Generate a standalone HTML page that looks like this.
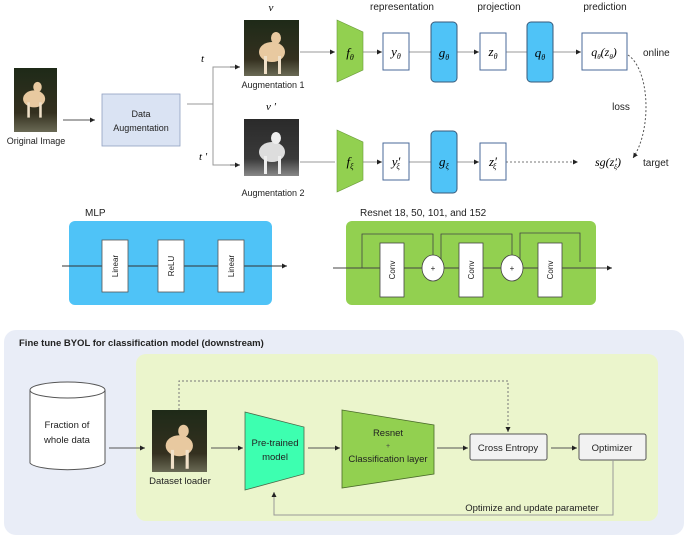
<!DOCTYPE html>
<html><head><style>
body{margin:0;background:#fff;}
svg{display:block;font-family:"Liberation Sans",sans-serif;}
.m{font-family:"Liberation Serif",serif;font-style:italic;}
</style></head><body>
<svg width="685" height="538" viewBox="0 0 685 538" xmlns="http://www.w3.org/2000/svg">
<defs>
<marker id="a" markerWidth="6" markerHeight="6" refX="5" refY="3" orient="auto"><path d="M0,0.5 L5,3 L0,5.5z" fill="#222"/></marker>
<linearGradient id="dog" x1="0" y1="0" x2="0" y2="1"><stop offset="0" stop-color="#1e2a18"/><stop offset="0.7" stop-color="#34301f"/><stop offset="1" stop-color="#6a6a55"/></linearGradient>
<linearGradient id="dogg" x1="0" y1="0" x2="0" y2="1"><stop offset="0" stop-color="#2a2a2a"/><stop offset="0.7" stop-color="#3a3a3a"/><stop offset="1" stop-color="#888"/></linearGradient>
<g id="dogc"><ellipse cx="26" cy="34" rx="13" ry="10" fill="#e8c9a0"/><ellipse cx="30" cy="20" rx="5" ry="6" fill="#e8c9a0"/><rect x="18" y="38" width="3" height="18" fill="#f0e0c8"/><rect x="32" y="38" width="3" height="18" fill="#f0e0c8"/></g>
<g id="dogw"><ellipse cx="26" cy="34" rx="13" ry="10" fill="#ddd"/><ellipse cx="30" cy="20" rx="5" ry="6" fill="#eee"/><rect x="18" y="38" width="3" height="18" fill="#eee"/><rect x="32" y="38" width="3" height="18" fill="#eee"/></g>
</defs>

<!-- Top section -->
<rect x="14" y="68" width="43" height="64" fill="url(#dog)"/>
<use href="#dogc" transform="translate(12,70) scale(0.85)"/>
<text x="36" y="144" font-size="9" text-anchor="middle" fill="#222">Original Image</text>
<line x1="63" y1="120" x2="95" y2="120" stroke="#555" stroke-width="1" marker-end="url(#a)"/>
<rect x="102" y="94" width="78" height="52" fill="#dae3f3" stroke="#8fa0c0" stroke-width="0.8"/>
<text x="141" y="117" font-size="9" text-anchor="middle" fill="#222">Data</text>
<text x="141" y="131" font-size="9" text-anchor="middle" fill="#222">Augmentation</text>
<line x1="187" y1="104" x2="213" y2="104" stroke="#999"/>
<path d="M238,67 H213 V165 H238" fill="none" stroke="#999"/>
<line x1="230" y1="67" x2="240" y2="67" stroke="#555" marker-end="url(#a)"/>
<line x1="230" y1="165" x2="240" y2="165" stroke="#555" marker-end="url(#a)"/>
<text x="201" y="62" font-size="11" class="m">t</text>
<text x="199" y="160" font-size="11" class="m">t ′</text>

<rect x="244" y="20" width="55" height="56" fill="url(#dog)"/>
<use href="#dogc" transform="translate(246,18) scale(1)"/>
<text x="271" y="11" font-size="11" class="m" text-anchor="middle">v</text>
<text x="273" y="88" font-size="9" text-anchor="middle" fill="#222">Augmentation 1</text>
<rect x="244" y="119" width="55" height="57" fill="url(#dogg)"/>
<use href="#dogw" transform="translate(246,118) scale(1)"/>
<text x="271" y="110" font-size="11" class="m" text-anchor="middle">v ′</text>
<text x="273" y="196" font-size="9" text-anchor="middle" fill="#222">Augmentation 2</text>

<!-- online row -->
<line x1="300" y1="52" x2="335" y2="52" stroke="#999" marker-end="url(#a)"/>
<line x1="363" y1="52" x2="382" y2="52" stroke="#999" marker-end="url(#a)"/>
<line x1="409" y1="52" x2="431" y2="52" stroke="#999"/>
<line x1="457" y1="52" x2="479" y2="52" stroke="#999" marker-end="url(#a)"/>
<line x1="506" y1="52" x2="527" y2="52" stroke="#999"/>
<line x1="553" y1="52" x2="581" y2="52" stroke="#999" marker-end="url(#a)"/>
<polygon points="337,20 363,32 363,70 337,82" fill="#92d050" stroke="#6a9a3a" stroke-width="0.6"/>
<text x="350" y="57" font-size="13" class="m" text-anchor="middle">f<tspan font-size="8" dy="3">θ</tspan></text>
<rect x="383" y="33" width="26" height="37" fill="#fff" stroke="#4a6a9a"/>
<text x="396" y="56" font-size="13" class="m" text-anchor="middle">y<tspan font-size="8" dy="3">θ</tspan></text>
<rect x="431" y="22" width="26" height="60" rx="4" fill="#4fc3f7" stroke="#3a5a7a"/>
<text x="444" y="57" font-size="13" class="m" text-anchor="middle">g<tspan font-size="8" dy="3">θ</tspan></text>
<rect x="480" y="33" width="26" height="37" fill="#fff" stroke="#4a6a9a"/>
<text x="493" y="56" font-size="13" class="m" text-anchor="middle">z<tspan font-size="8" dy="3">θ</tspan></text>
<rect x="527" y="22" width="26" height="60" rx="4" fill="#4fc3f7" stroke="#3a5a7a"/>
<text x="540" y="57" font-size="13" class="m" text-anchor="middle">q<tspan font-size="8" dy="3">θ</tspan></text>
<rect x="582" y="33" width="45" height="37" fill="#fff" stroke="#4a6a9a"/>
<text x="604" y="56" font-size="12" class="m" text-anchor="middle">q<tspan font-size="7" dy="3">θ</tspan><tspan dy="-3">(z</tspan><tspan font-size="7" dy="3">θ</tspan><tspan dy="-3">)</tspan></text>
<text x="643" y="56" font-size="10" fill="#222">online</text>
<text x="402" y="10" font-size="10" text-anchor="middle" fill="#222">representation</text>
<text x="499" y="10" font-size="10" text-anchor="middle" fill="#222">projection</text>
<text x="605" y="10" font-size="10" text-anchor="middle" fill="#222">prediction</text>
<text x="621" y="110" font-size="10" text-anchor="middle" fill="#222">loss</text>
<path d="M628,55 C650,70 652,130 633,158" fill="none" stroke="#555" stroke-dasharray="2,2" marker-end="url(#a)"/>

<!-- target row -->
<line x1="300" y1="162" x2="335" y2="162" stroke="#999"/>
<line x1="363" y1="162" x2="382" y2="162" stroke="#999" marker-end="url(#a)"/>
<line x1="409" y1="162" x2="431" y2="162" stroke="#999"/>
<line x1="457" y1="162" x2="479" y2="162" stroke="#999" marker-end="url(#a)"/>
<line x1="506" y1="162" x2="578" y2="162" stroke="#777" stroke-dasharray="2,2" marker-end="url(#a)"/>
<polygon points="337,130 363,142 363,180 337,192" fill="#92d050" stroke="#6a9a3a" stroke-width="0.6"/>
<text x="350" y="166" font-size="13" class="m" text-anchor="middle">f<tspan font-size="8" dy="3">ξ</tspan></text>
<rect x="383" y="143" width="26" height="37" fill="#fff" stroke="#4a6a9a"/>
<text x="396" y="166" font-size="13" class="m" text-anchor="middle">y′<tspan font-size="8" dy="3" dx="-4">ξ</tspan></text>
<rect x="431" y="131" width="26" height="62" rx="4" fill="#4fc3f7" stroke="#3a5a7a"/>
<text x="444" y="166" font-size="13" class="m" text-anchor="middle">g<tspan font-size="8" dy="3">ξ</tspan></text>
<rect x="480" y="143" width="26" height="37" fill="#fff" stroke="#4a6a9a"/>
<text x="493" y="166" font-size="13" class="m" text-anchor="middle">z′<tspan font-size="8" dy="3" dx="-4">ξ</tspan></text>
<text x="608" y="166" font-size="12" class="m" text-anchor="middle">sg(z′<tspan font-size="7" dy="3" dx="-3">ξ</tspan><tspan dy="-3">)</tspan></text>
<text x="643" y="166" font-size="10" fill="#222">target</text>

<!-- MLP -->
<text x="85" y="216" font-size="10" fill="#222">MLP</text>
<rect x="69" y="221" width="203" height="84" rx="6" fill="#4fc3f7"/>
<line x1="62" y1="266" x2="287" y2="266" stroke="#333" marker-end="url(#a)"/>
<g fill="#fff" stroke="#555" stroke-width="0.8">
<rect x="102" y="240" width="26" height="52"/><rect x="158" y="240" width="26" height="52"/><rect x="218" y="240" width="26" height="52"/></g>
<g font-size="8" fill="#222" text-anchor="middle">
<text transform="translate(118,266) rotate(-90)">Linear</text>
<text transform="translate(174,266) rotate(-90)">ReLU</text>
<text transform="translate(234,266) rotate(-90)">Linear</text></g>

<!-- Resnet -->
<text x="360" y="216" font-size="10" fill="#222">Resnet 18, 50, 101, and 152</text>
<rect x="346" y="221" width="250" height="84" rx="6" fill="#92d050"/>
<line x1="333" y1="268" x2="612" y2="268" stroke="#444" marker-end="url(#a)"/>
<g fill="none" stroke="#444" stroke-width="0.8">
<path d="M362,268 V234 H433 V255"/><path d="M441,268 V234 H512 V255"/><path d="M520,268 V233 H580 V262"/></g>
<g fill="#fff" stroke="#444" stroke-width="0.8">
<rect x="380" y="243" width="24" height="54"/><rect x="459" y="243" width="24" height="54"/><rect x="538" y="243" width="24" height="54"/>
<ellipse cx="433" cy="268" rx="11" ry="13"/><ellipse cx="512" cy="268" rx="11" ry="13"/></g>
<g font-size="8" fill="#222" text-anchor="middle">
<text transform="translate(395,270) rotate(-90)">Conv</text>
<text transform="translate(474,270) rotate(-90)">Conv</text>
<text transform="translate(553,270) rotate(-90)">Conv</text>
<text x="433" y="271">+</text><text x="512" y="271">+</text></g>

<!-- Bottom -->
<rect x="4" y="330" width="680" height="205" rx="12" fill="#e9edf7"/>
<text x="19" y="346" font-size="9.5" font-weight="bold" fill="#222">Fine tune BYOL for classification model (downstream)</text>
<rect x="136" y="354" width="522" height="167" rx="10" fill="#ebf5cc"/>
<path d="M30,390 V463 A38,8 0 0 0 105,463 V390" fill="#fff" stroke="#555"/>
<ellipse cx="67.5" cy="390" rx="37.5" ry="8" fill="#fff" stroke="#555"/>
<text x="67" y="428" font-size="9.5" text-anchor="middle" fill="#222">Fraction of</text>
<text x="67" y="443" font-size="9.5" text-anchor="middle" fill="#222">whole data</text>
<line x1="109" y1="448" x2="145" y2="448" stroke="#555" marker-end="url(#a)"/>

<rect x="152" y="410" width="55" height="62" fill="url(#dog)"/>
<use href="#dogc" transform="translate(152,410) scale(1.05)"/>
<text x="180" y="484" font-size="9.5" text-anchor="middle" fill="#222">Dataset loader</text>
<path d="M179,410 V381 H508 V432" fill="none" stroke="#777" stroke-dasharray="2,2" marker-end="url(#a)"/>

<line x1="211" y1="448" x2="243" y2="448" stroke="#555" marker-end="url(#a)"/>
<polygon points="245,412 304,427 304,474 245,490" fill="#3dffb0" stroke="#4a6a4a" stroke-width="0.8"/>
<text x="275" y="446" font-size="9.5" text-anchor="middle" fill="#222">Pre-trained</text>
<text x="275" y="460" font-size="9.5" text-anchor="middle" fill="#222">model</text>

<line x1="308" y1="448" x2="340" y2="448" stroke="#555" marker-end="url(#a)"/>
<polygon points="342,410 434,425 434,474 342,488" fill="#92d050" stroke="#4a6a2a" stroke-width="0.8"/>
<text x="388" y="436" font-size="9.5" text-anchor="middle" fill="#222">Resnet</text>
<text x="388" y="448" font-size="7" text-anchor="middle" fill="#444">+</text>
<text x="388" y="462" font-size="9.5" text-anchor="middle" fill="#222">Classification layer</text>

<line x1="437" y1="448" x2="468" y2="448" stroke="#555" marker-end="url(#a)"/>
<rect x="470" y="434" width="77" height="26" rx="2" fill="#f2f2f2" stroke="#555"/>
<text x="508" y="451" font-size="9.5" text-anchor="middle" fill="#222">Cross Entropy</text>
<line x1="551" y1="448" x2="577" y2="448" stroke="#555" marker-end="url(#a)"/>
<rect x="579" y="434" width="67" height="26" rx="2" fill="#f2f2f2" stroke="#555"/>
<text x="612" y="451" font-size="9.5" text-anchor="middle" fill="#222">Optimizer</text>

<path d="M613,460 V515 H274 V492" fill="none" stroke="#999" marker-end="url(#a)"/>
<text x="532" y="511" font-size="9.5" text-anchor="middle" fill="#222">Optimize and update parameter</text>
</svg></body></html>
